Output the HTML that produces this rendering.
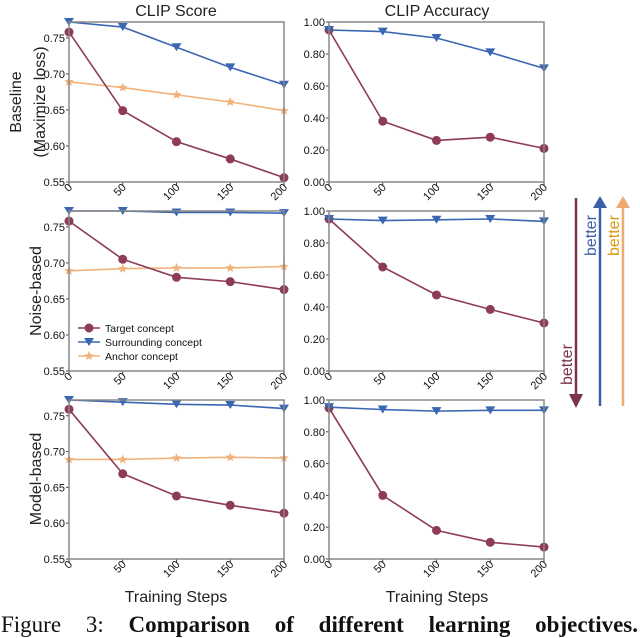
<!DOCTYPE html>
<html><head><meta charset="utf-8"><style>
body{margin:0;background:#fff;width:640px;height:638px;overflow:hidden;position:relative}
svg{display:block}
text{font-family:"Liberation Sans","DejaVu Sans",sans-serif}
#cap{position:absolute;left:1px;top:612px;width:637px;font-family:"Liberation Serif",serif;font-size:23px;color:#111;text-align:justify;text-align-last:justify;white-space:nowrap;line-height:26px}
</style></head><body>
<svg id="fig" width="640" height="638" xmlns="http://www.w3.org/2000/svg">
<text x="176" y="16" font-size="16" text-anchor="middle" fill="#222">CLIP Score</text>
<text x="437" y="16" font-size="16" text-anchor="middle" fill="#222">CLIP Accuracy</text>
<text transform="translate(21,102) rotate(-90)" font-size="16" text-anchor="middle" fill="#222">Baseline</text>
<text transform="translate(45,102) rotate(-90)" font-size="16" text-anchor="middle" fill="#222">(Maximize loss)</text>
<text transform="translate(41,291) rotate(-90)" font-size="16" text-anchor="middle" fill="#222">Noise-based</text>
<text transform="translate(41,479) rotate(-90)" font-size="16" text-anchor="middle" fill="#222">Model-based</text>
<text x="176" y="602" font-size="16" text-anchor="middle" fill="#222">Training Steps</text>
<text x="437" y="602" font-size="16" text-anchor="middle" fill="#222">Training Steps</text>
<g>
<line x1="576" y1="198" x2="576" y2="396" stroke="#7a3448" stroke-width="2.5"/>
<polygon points="569,394 583,394 576,408" fill="#7a3448"/>
<text transform="translate(572,385) rotate(-90)" font-size="16" fill="#7a3448">better</text>
<line x1="600" y1="406" x2="600" y2="206" stroke="#3a5fa8" stroke-width="2.5"/>
<polygon points="593,208 607,208 600,196" fill="#3a5fa8"/>
<text transform="translate(596,256) rotate(-90)" font-size="16" fill="#3a5fa8">better</text>
<line x1="623" y1="406" x2="623" y2="206" stroke="#eeaa70" stroke-width="2.5"/>
<polygon points="616,208 630,208 623,196" fill="#eeaa70"/>
<text transform="translate(619,256) rotate(-90)" font-size="16" fill="#d99a10">better</text>
</g>
</svg>
<div id="cap">Figure 3: <b>Comparison of different learning objectives.</b></div>
<script>
const steps=[0,50,100,150,200];
const xTicks=["0","50","100","150","200"];
const scoreTicks=[0.55,0.60,0.65,0.70,0.75];
const accTicks=[0,0.2,0.4,0.6,0.8,1.0];
const baseScoreTarget=[0.758,0.649,0.606,0.582,0.556];
const baseScoreSurround=[0.778,0.765,0.737,0.709,0.685];
const baseScoreAnchor=[0.689,0.681,0.671,0.661,0.649];
const baseAccTarget=[0.95,0.38,0.26,0.28,0.21];
const baseAccSurround=[0.95,0.94,0.90,0.81,0.71];
const noiseScoreTarget=[0.758,0.705,0.680,0.674,0.663];
const noiseScoreSurround=[0.777,0.772,0.770,0.770,0.769];
const noiseScoreAnchor=[0.689,0.692,0.693,0.693,0.695];
const noiseAccTarget=[0.95,0.65,0.475,0.385,0.30];
const noiseAccSurround=[0.95,0.94,0.945,0.95,0.935];
const modelScoreTarget=[0.759,0.669,0.638,0.625,0.614];
const modelScoreSurround=[0.777,0.769,0.766,0.765,0.760];
const modelScoreAnchor=[0.689,0.689,0.691,0.692,0.691];
const modelAccTarget=[0.95,0.40,0.18,0.105,0.075];
const modelAccSurround=[0.955,0.94,0.93,0.935,0.935];

const NS="http://www.w3.org/2000/svg";
const svg=document.getElementById('fig');
const C={t:"#8e3b55",s:"#3a66b2",a:"#f2b27c"};
function mk(tag,attrs,parent){const e=document.createElementNS(NS,tag);for(const k in attrs)e.setAttribute(k,attrs[k]);(parent||svg).appendChild(e);return e;}
function marker(g,kind,x,y){
  if(kind==='t'){const m=mk('circle',{cx:x,cy:y,r:4.5,fill:C.t},g);}
  else if(kind==='s'){const m=mk('polygon',{points:`${x-5},${y-4} ${x+5},${y-4} ${x},${y+4}`,fill:C.s},g);}
  else{let p=[];for(let i=0;i<10;i++){const r=i%2?2.2:5,a=-Math.PI/2+i*Math.PI/5;p.push((x+r*Math.cos(a)).toFixed(1)+','+(y+r*Math.sin(a)).toFixed(1));}
  const m=mk('polygon',{points:p.join(' '),fill:C.a},g);}
}
function panel(name,x0,x1,y0,y1,ymin,ymax,ticks,fmt,series){
  const g=mk('g',{});
  
  
  const sx=v=>x0+(v-0)/200*(x1-x0);
  const sy=v=>y1-(Math.min(v,ymax)-ymin)/(ymax-ymin)*(y1-y0);
  ticks.forEach(t=>{const y=sy(t);mk('line',{x1:x0-3,x2:x0,y1:y,y2:y,stroke:'#444'},g);
    const tx=mk('text',{x:x0-4,y:y+4,'font-size':11,'text-anchor':'end',fill:'#111'},g);tx.textContent=fmt(t);
    });
  steps.forEach((s,i)=>{const x=sx(s);mk('line',{x1:x,x2:x,y1:y1,y2:y1+3,stroke:'#444'},g);
    const tx=mk('text',{transform:`translate(${x+4},${y1+6}) rotate(-45)`,'font-size':11,'text-anchor':'end',fill:'#111'},g);tx.textContent=xTicks[i];
    });
  series.forEach(([kind,vals])=>{
    const pl=mk('polyline',{points:vals.map((v,i)=>sx(steps[i])+','+sy(v)).join(' '),fill:'none',stroke:C[kind],'stroke-width':1.6},g);
    
    
    vals.forEach((v,i)=>marker(g,kind,sx(steps[i]),sy(v)));
  });
  const fr=mk('rect',{x:x0,y:y0,width:x1-x0,height:y1-y0,fill:'none',stroke:'#888','stroke-width':1.5},g);
  
  return g;
}
const f2=v=>v.toFixed(2);
const L=[69,284],R=[329,544];
const rows=[[22,182],[211,371],[400,559]];
const SMIN=0.55,SMAX=0.772;
panel('baseline-score-panel',L[0],L[1],rows[0][0],rows[0][1],SMIN,SMAX,scoreTicks,f2,[['a',baseScoreAnchor],['t',baseScoreTarget],['s',baseScoreSurround]]);
panel('baseline-accuracy-panel',R[0],R[1],rows[0][0],rows[0][1],0,1,accTicks,f2,[['t',baseAccTarget],['s',baseAccSurround]]);
panel('noise-score-panel',L[0],L[1],rows[1][0],rows[1][1],SMIN,SMAX,scoreTicks,f2,[['a',noiseScoreAnchor],['t',noiseScoreTarget],['s',noiseScoreSurround]]);
panel('noise-accuracy-panel',R[0],R[1],rows[1][0],rows[1][1],0,1,accTicks,f2,[['t',noiseAccTarget],['s',noiseAccSurround]]);
panel('model-score-panel',L[0],L[1],rows[2][0],rows[2][1],SMIN,SMAX,scoreTicks,f2,[['a',modelScoreAnchor],['t',modelScoreTarget],['s',modelScoreSurround]]);
panel('model-accuracy-panel',R[0],R[1],rows[2][0],rows[2][1],0,1,accTicks,f2,[['t',modelAccTarget],['s',modelAccSurround]]);
const lg=mk('g',{});


[['t','Target concept',328],['s','Surrounding concept',342],['a','Anchor concept',356]].forEach(([k,lab,y])=>{
  mk('line',{x1:78,x2:100,y1:y,y2:y,stroke:C[k],'stroke-width':1.6},lg);
  marker(lg,k,89,y);
  const t=mk('text',{x:105,y:y+4,'font-size':10.5,fill:'#111'},lg);t.textContent=lab;
  
});
</script>
</body></html>
